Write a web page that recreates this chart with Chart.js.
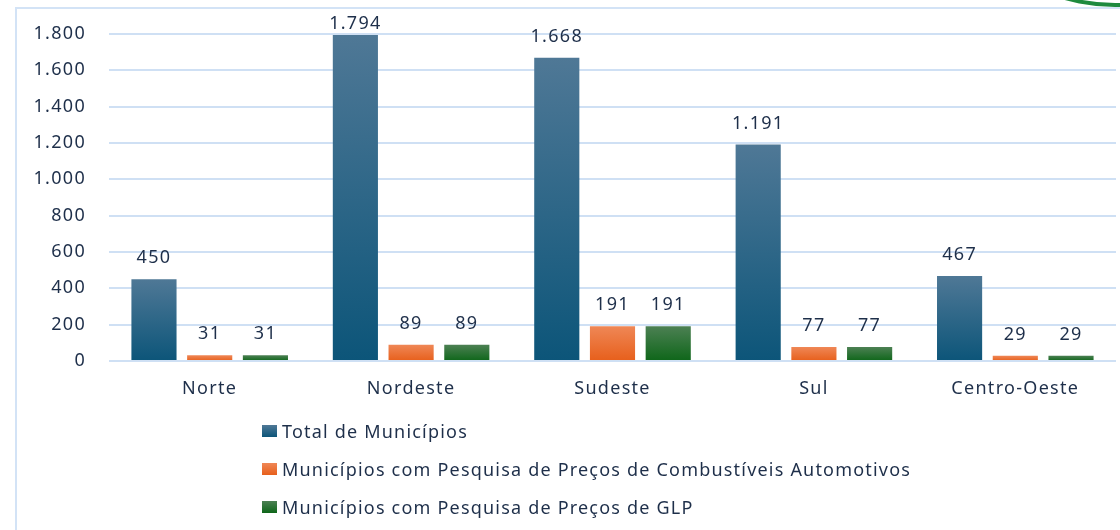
<!DOCTYPE html>
<html>
<head>
<meta charset="utf-8">
<script src="https://cdn.jsdelivr.net/npm/chart.js@4.4.1/dist/chart.umd.min.js"></script>
<style>
  html, body { margin: 0; padding: 0; background: #fff; overflow: hidden; }
  #wrap { position: relative; width: 1120px; height: 530px; overflow: hidden; }
  #frame { position: absolute; left: 15px; top: 7px; width: 1200px; height: 600px;
           border: 2px solid #d3e3f6; box-sizing: border-box; }
  #logo { position: absolute; left: 931px; top: -361px; width: 368px; height: 368px;
          border-radius: 50%; border: 4px solid transparent; border-bottom-color: #1e8a3e;
          box-sizing: border-box; }
  canvas { position: absolute; left: 0; top: 0; }
  #legend { position: absolute; left: 262px; top: 419px; font-family: "Noto Sans", sans-serif;
            font-size: 18px; letter-spacing: 1.2px; color: #1e2f4a; }
  .item { display: flex; align-items: center; height: 24px; margin-bottom: 14px; }
  .box { width: 15px; height: 12px; margin-right: 5px; }
</style>
</head>
<body>
<div id="wrap">
  <div id="frame"></div>
  <div id="logo"></div>
  <canvas id="chart" width="1120" height="530"></canvas>
  <div id="legend"></div>
</div>
<script>
// Chart data
const regions = ['Norte', 'Nordeste', 'Sudeste', 'Sul', 'Centro-Oeste'];
const totalMunicipios = [450, 1794, 1668, 1191, 467];
const combustiveis = [31, 89, 191, 77, 29];
const glp = [31, 89, 191, 77, 29];

const seriesNames = [
  'Total de Municípios',
  'Municípios com Pesquisa de Preços de Combustíveis Automotivos',
  'Municípios com Pesquisa de Preços de GLP'
];
// top / bottom colours of each series gradient
const seriesColors = [
  ['#4f7896', '#0c5579'],
  ['#ef8756', '#e75f1b'],
  ['#4c8053', '#0e6619']
];

const textColor = '#1e2f4a';
const font = '"Noto Sans", sans-serif';
const spacing = '1.3px';

// format numbers pt-BR style (1.794)
function fmt(v) {
  return String(v).replace(/\B(?=(\d{3})+(?!\d))/g, '.');
}

// vertical gradient per bar, from its top to the zero line
function barGradient(top, bottom) {
  return (ctx) => {
    const chart = ctx.chart;
    if (!chart.chartArea || ctx.type !== 'data' || !chart.scales.y) return bottom;
    const y = chart.scales.y;
    const y0 = y.getPixelForValue(0);
    const y1 = y.getPixelForValue(ctx.raw);
    if (!isFinite(y0) || !isFinite(y1) || y0 === y1) return bottom;
    const g = chart.ctx.createLinearGradient(0, y1, 0, y0);
    g.addColorStop(0, top);
    g.addColorStop(1, bottom);
    return g;
  };
}

// wider letter spacing for all canvas text
const letterSpacing = {
  id: 'letterSpacing',
  beforeUpdate(chart) { chart.ctx.letterSpacing = spacing; },
  beforeDraw(chart) { chart.ctx.letterSpacing = spacing; }
};

// value labels above the bars (kept inside the frame at the top)
const valueLabels = {
  id: 'valueLabels',
  afterDatasetsDraw(chart) {
    const c = chart.ctx;
    c.save();
    c.font = '18px ' + font;
    c.fillStyle = textColor;
    c.textAlign = 'center';
    c.textBaseline = 'alphabetic';
    chart.data.datasets.forEach((ds, i) => {
      chart.getDatasetMeta(i).data.forEach((bar, j) => {
        const y = Math.max(bar.y - 16, chart.chartArea.top - 5);
        c.fillText(fmt(ds.data[j]), bar.x, y);
      });
    });
    c.restore();
  }
};

const allSeries = [totalMunicipios, combustiveis, glp];

const chart = new Chart(document.getElementById('chart'), {
  type: 'bar',
  data: {
    labels: regions,
    datasets: allSeries.map((data, i) => ({
      label: seriesNames[i],
      data: data,
      backgroundColor: barGradient(seriesColors[i][0], seriesColors[i][1]),
      borderWidth: 0,
      categoryPercentage: 0.83,
      barPercentage: 0.81
    }))
  },
  options: {
    responsive: false,
    animation: false,
    layout: { padding: { left: 18, right: 4, top: 33, bottom: 129 } },
    plugins: {
      legend: { display: false },
      tooltip: { enabled: false }
    },
    scales: {
      x: {
        grid: { display: false, drawTicks: false },
        border: { display: false },
        ticks: { color: textColor, font: { family: font, size: 18 }, padding: 17 },
        afterFit: (scale) => { scale.height = 40; }
      },
      y: {
        min: 0,
        max: 1800,
        grid: { color: '#cfe0f4', lineWidth: 2, drawTicks: false },
        border: { display: false },
        ticks: {
          stepSize: 200,
          color: textColor,
          font: { family: font, size: 18 },
          padding: 23,
          callback: (v) => fmt(v)
        },
        afterFit: (scale) => { scale.width = 91; }
      }
    }
  },
  plugins: [letterSpacing, valueLabels]
});

// legend built from the chart's datasets
const legend = document.getElementById('legend');
chart.data.datasets.forEach((ds, i) => {
  const item = document.createElement('div');
  item.className = 'item';
  const box = document.createElement('span');
  box.className = 'box';
  box.style.background = `linear-gradient(${seriesColors[i][0]}, ${seriesColors[i][1]})`;
  const txt = document.createElement('span');
  txt.textContent = ds.label;
  item.appendChild(box);
  item.appendChild(txt);
  legend.appendChild(item);
});
</script>
</body>
</html>
